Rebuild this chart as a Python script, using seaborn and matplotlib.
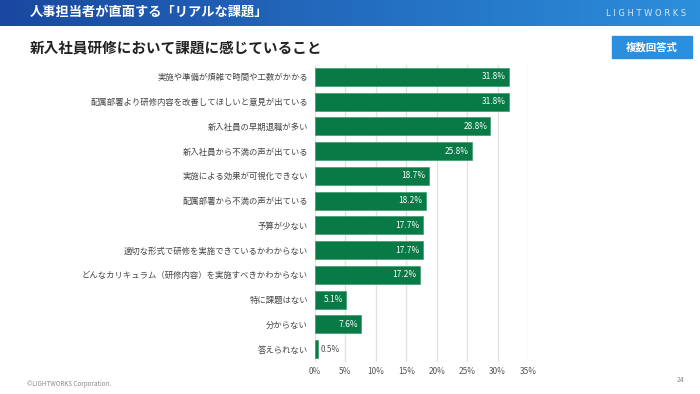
import matplotlib.pyplot as plt
import seaborn as sns
import numpy as np
import pandas as pd
from matplotlib.colors import LinearSegmentedColormap

# data
categories = [
    '実施や準備が煩雑で時間や工数がかかる',
    '配属部署より研修内容を改善してほしいと意見が出ている',
    '新入社員の早期退職が多い',
    '新入社員から不満の声が出ている',
    '実施による効果が可視化できない',
    '配属部署から不満の声が出ている',
    '予算が少ない',
    '適切な形式で研修を実施できているかわからない',
    'どんなカリキュラム（研修内容）を実施すべきかわからない',
    '特に課題はない',
    '分からない',
    '答えられない',
]
values = [31.8, 31.8, 28.8, 25.8, 18.7, 18.2, 17.7, 17.7, 17.2, 5.1, 7.6, 0.5]
x_ticks = [0, 5, 10, 15, 20, 25, 30, 35]

header_title = '人事担当者が直面する「リアルな課題」'
chart_title = '新入社員研修において課題に感じていること'
badge_text = '複数回答式'

sns.set_theme(style='white')
plt.rcParams['font.family'] = ['Noto Sans CJK JP', 'DejaVu Sans']

df = pd.DataFrame({'category': categories, 'value': values})

fig = plt.figure(figsize=(7, 3.94), dpi=100)

# header band with blue gradient
hdr = fig.add_axes([0, 1 - 26 / 394, 1, 26 / 394])
grad = np.linspace(0, 1, 256).reshape(1, -1)
cmap = LinearSegmentedColormap.from_list('hdr', ['#1a48a0', '#2c8fdc'])
hdr.imshow(grad, aspect='auto', cmap=cmap, extent=[0, 1, 0, 1])
hdr.set_axis_off()
hdr.text(30 / 700, 0.55, header_title, color='white', fontsize=9.5,
         fontweight='bold', va='center', ha='left', transform=hdr.transAxes)
hdr.text(686 / 700, 0.5, 'L I G H T W O R K S', color='#dbe6f5', fontsize=6,
         va='center', ha='right', transform=hdr.transAxes,
         family=['DejaVu Sans'])

# title and badge
fig.text(30 / 700, 1 - 47 / 394, chart_title, fontsize=10.5, fontweight='bold',
         color='#222222', va='center', ha='left')
fig.patches.append(plt.Rectangle((612 / 700, 1 - 58 / 394), 80 / 700, 22 / 394,
                                 transform=fig.transFigure, color='#2b8fdf',
                                 zorder=1))
fig.text(652 / 700, 1 - 47 / 394, badge_text, fontsize=7.5, fontweight='bold',
         color='white', va='center', ha='center')

# bar chart
ax = fig.add_axes([315 / 700, 1 - 361.5 / 394, 213 / 700, 297 / 394])
sns.barplot(data=df, x='value', y='category', orient='h', color='#077a46',
            saturation=1, width=0.72, edgecolor='#3f9a6c', linewidth=0.5,
            ax=ax, zorder=3)
ax.set_xlim(0, 35)
ax.set_xticks(x_ticks)
ax.set_xticklabels([f'{t}%' for t in x_ticks], fontsize=6, color='#555555')
ax.tick_params(axis='y', labelsize=6, colors='#444444', length=0, pad=5)
ax.tick_params(axis='x', length=0, pad=4)
ax.set_xlabel('')
ax.set_ylabel('')
ax.grid(axis='x', color='#e2e2e2', linewidth=1, zorder=0)
for s in ax.spines.values():
    s.set_visible(False)

for i, v in enumerate(values):
    if v < 2:
        ax.text(v + 0.4, i, f'{v}%', va='center', ha='left', fontsize=6,
                color='#555555', zorder=4)
    else:
        ax.text(v - 0.5, i, f'{v}%', va='center', ha='right', fontsize=6,
                color='white', zorder=4)

# footer
fig.text(27 / 700, 1 - 384 / 394, '©LIGHTWORKS Corporation.', fontsize=4.5,
         color='#888888', va='center', ha='left')
fig.text(684 / 700, 1 - 380 / 394, '24', fontsize=5, color='#888888',
         va='center', ha='right')

fig.savefig('out.png', dpi=100)
